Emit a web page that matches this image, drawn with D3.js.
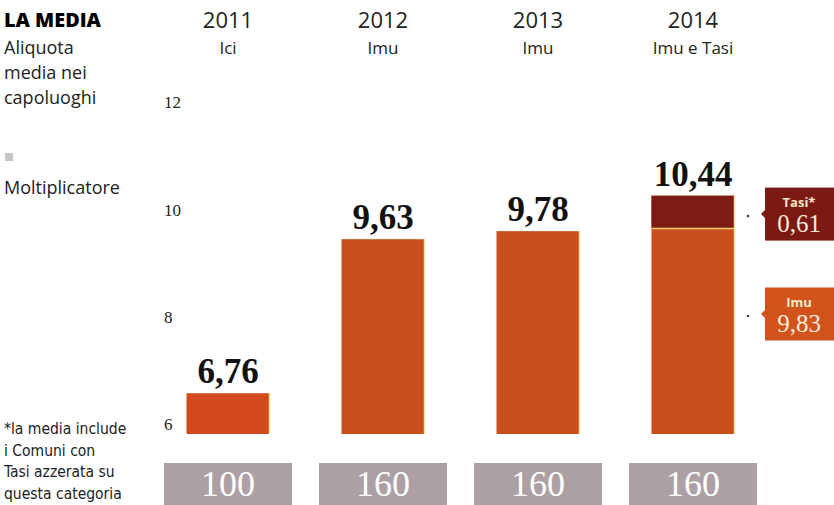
<!DOCTYPE html>
<html>
<head>
<meta charset="utf-8">
<script src="https://cdn.jsdelivr.net/npm/d3@7"></script>
<style>
  body { margin: 0; background: #fff; }
  svg { display: block; }
</style>
</head>
<body>
<svg id="chart" width="834" height="505"></svg>
<script>
// dati
const anni = ["2011", "2012", "2013", "2014"];
const imposte = ["Ici", "Imu", "Imu", "Imu e Tasi"];
const aliquote = [6.76, 9.63, 9.78, 10.44];
const imu2014 = 9.83;
const tasi2014 = 0.61;
const moltiplicatori = [100, 160, 160, 160];
const yTicks = [6, 8, 10, 12];

const svg = d3.select("#chart");

const sans = "'Open Sans', 'DejaVu Sans', sans-serif";
const serif = "'Liberation Serif', 'DejaVu Serif', serif";

// scale
const x = d3.scalePoint().domain(anni).range([228, 693]);
const y = d3.scaleLinear().domain([6, 12]).range([434, 112]);
const barW = 83;

// testo a sinistra
svg.append("text").attr("x", 4).attr("y", 27)
  .attr("font-family", sans).attr("font-weight", 800).attr("font-size", 20)
  .attr("textLength", 97).attr("lengthAdjust", "spacingAndGlyphs").text("LA MEDIA");
["Aliquota", "media nei", "capoluoghi"].forEach((t, i) => {
  svg.append("text").attr("x", 4).attr("y", 54 + i * 25)
    .attr("font-family", sans).attr("font-size", 18).attr("fill", "#222").text(t);
});
svg.append("rect").attr("x", 5).attr("y", 153).attr("width", 8).attr("height", 8).attr("fill", "#c9c4c6");
svg.append("text").attr("x", 4).attr("y", 194)
  .attr("font-family", sans).attr("font-size", 18).attr("fill", "#222").text("Moltiplicatore");
["*la media include", "i Comuni con", "Tasi azzerata su", "questa categoria"].forEach((t, i) => {
  svg.append("text").attr("x", 4).attr("y", 434 + i * 21.5)
    .attr("font-family", "'DejaVu Sans Condensed', " + sans).attr("font-size", 15.5).attr("fill", "#222")
    .text(t);
});

// asse y (solo etichette)
const yAxis = svg.append("g").attr("transform", "translate(164,0)")
  .call(d3.axisRight(y).tickValues(yTicks).tickSize(0).tickPadding(0).tickFormat(d3.format("d")));
yAxis.select(".domain").remove();
yAxis.selectAll("text")
  .attr("font-family", serif).attr("font-size", 17).attr("fill", "#222")
  .attr("dy", "-0.25em");

// intestazioni
const head = svg.append("g");
head.selectAll("text.anno").data(anni).join("text").attr("class", "anno")
  .attr("x", d => x(d)).attr("y", 28).attr("text-anchor", "middle")
  .attr("font-family", sans).attr("font-size", 22).attr("fill", "#222").text(d => d);
head.selectAll("text.imp").data(anni).join("text").attr("class", "imp")
  .attr("x", d => x(d)).attr("y", 54).attr("text-anchor", "middle")
  .attr("font-family", sans).attr("font-size", 17).attr("fill", "#222")
  .text((d, i) => imposte[i]);

// barre
const bars = svg.append("g");
bars.selectAll("rect.bar").data(anni).join("rect").attr("class", "bar")
  .attr("x", d => x(d) - barW / 2)
  .attr("y", (d, i) => y(aliquote[i]))
  .attr("width", barW)
  .attr("height", (d, i) => y(6) - y(aliquote[i]))
  .attr("fill", (d, i) => i === 0 ? "#d34a1e" : "#c9501d");

// parte Tasi 2014
const x14 = x("2014") - barW / 2;
bars.append("rect").attr("x", x14).attr("y", y(imu2014 + tasi2014))
  .attr("width", barW).attr("height", y(imu2014) - y(imu2014 + tasi2014))
  .attr("fill", "#7d1c13");
bars.append("line").attr("x1", x14).attr("x2", x14 + barW)
  .attr("y1", y(imu2014)).attr("y2", y(imu2014))
  .attr("stroke", "#f4d070").attr("stroke-width", 1.5);
// bordo giallino (sbavatura di stampa)
bars.selectAll("line.edge").data(anni).join("line").attr("class", "edge")
  .attr("x1", d => x(d) + barW / 2).attr("x2", d => x(d) + barW / 2)
  .attr("y1", (d, i) => y(aliquote[i])).attr("y2", y(6))
  .attr("stroke", "#efe59a").attr("stroke-width", 1.5);

// valori sopra le barre
svg.selectAll("text.val").data(anni).join("text").attr("class", "val")
  .attr("x", d => x(d)).attr("y", (d, i) => y(aliquote[i]) - 10)
  .attr("text-anchor", "middle")
  .attr("font-family", serif).attr("font-weight", "bold").attr("font-size", 35)
  .attr("fill", "#111")
  .text((d, i) => d3.format(".2f")(aliquote[i]).replace(".", ","));

// etichette Tasi e Imu a destra
const fmt = v => d3.format(".2f")(v).replace(".", ",");
const callouts = [
  { nome: "Tasi*", val: tasi2014, cy: y(imu2014 + tasi2014 / 2) + 2, fill: "#7a1a12" },
  { nome: "Imu", val: imu2014, cy: 314, fill: "#d2521c" }
];
const cg = svg.append("g");
callouts.forEach(c => {
  const bx = 765, bw = 70, bh = 53, by = c.cy - bh / 2;
  cg.append("rect").attr("x", bx).attr("y", by).attr("width", bw).attr("height", bh).attr("fill", c.fill);
  cg.append("path").attr("d", `M${bx},${c.cy - 4}L${bx - 4},${c.cy}L${bx},${c.cy + 4}Z`).attr("fill", c.fill);
  cg.append("circle").attr("cx", 748).attr("cy", c.cy + 2).attr("r", 1.3).attr("fill", "#444");
  cg.append("text").attr("x", bx + bw / 2 - 1).attr("y", by + 19).attr("text-anchor", "middle")
    .attr("font-family", sans).attr("font-weight", "bold").attr("font-size", 13)
    .attr("fill", "#f6e6c8").text(c.nome);
  cg.append("text").attr("x", bx + bw / 2 - 1).attr("y", by + 44).attr("text-anchor", "middle")
    .attr("font-family", serif).attr("font-size", 25)
    .attr("fill", "#f8ecd8").text(fmt(c.val));
});

// moltiplicatori
const mg = svg.append("g");
mg.selectAll("rect").data(anni).join("rect")
  .attr("x", d => x(d) - 64).attr("y", 463).attr("width", 128).attr("height", 45)
  .attr("fill", "#aca0a5");
mg.selectAll("text").data(anni).join("text")
  .attr("x", d => x(d)).attr("y", 496).attr("text-anchor", "middle")
  .attr("font-family", serif).attr("font-size", 36)
  .attr("fill", "#fff").text((d, i) => moltiplicatori[i]);
</script>
</body>
</html>
